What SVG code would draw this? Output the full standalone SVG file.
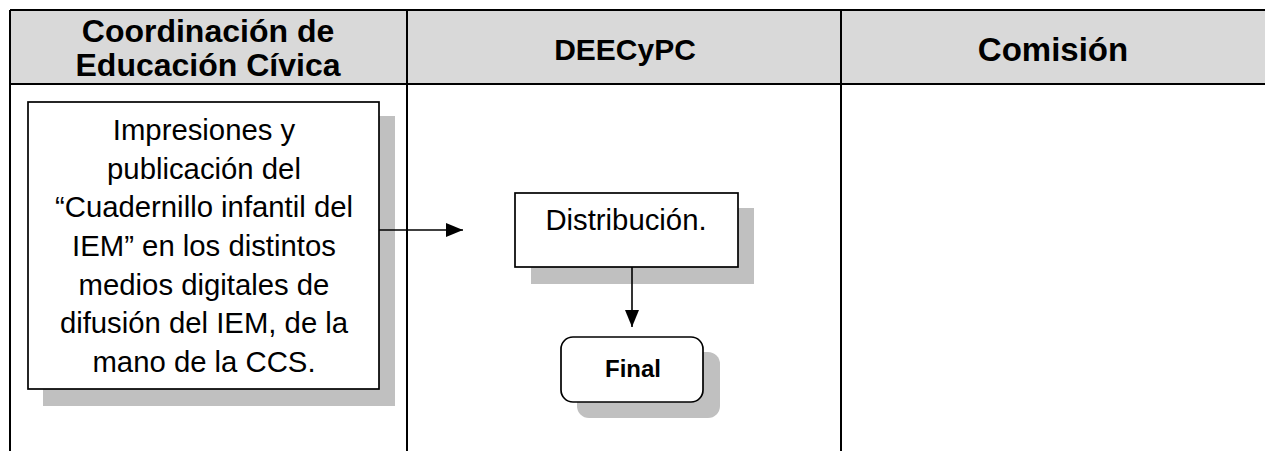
<svg xmlns="http://www.w3.org/2000/svg" width="1265" height="451" viewBox="0 0 1265 451">
<style>
.hdr{font-family:"Liberation Sans",Arial,sans-serif;font-weight:bold;font-size:31px;fill:#000;text-anchor:middle}
.txt{font-family:"Liberation Sans",Arial,sans-serif;font-size:29.3px;fill:#000;text-anchor:middle}
.bold{font-weight:bold;font-size:24px}
.grid{stroke:#000;stroke-width:2;fill:none}
.box{fill:#fff;stroke:#000;stroke-width:1.7}
.shadow{fill:#c0c0c0}
.conn{stroke:#000;stroke-width:1.6;fill:none}
</style>
<defs>
<marker id="arr" viewBox="0 0 17 14" refX="17" refY="7" markerWidth="17" markerHeight="14" markerUnits="userSpaceOnUse" orient="auto">
<path d="M0,0 L17,7 L0,14 Z" fill="#000"/>
</marker>
</defs>
<rect width="1265" height="451" fill="#fff"/>
<g id="table">
<rect x="10" y="10" width="1265" height="74" fill="#d9d9d9"/>
<line class="grid" x1="10" y1="10" x2="1265" y2="10"/>
<line class="grid" x1="10" y1="84" x2="1265" y2="84"/>
<line class="grid" x1="10" y1="10" x2="10" y2="451"/>
<line class="grid" x1="407" y1="10" x2="407" y2="451"/>
<line class="grid" x1="841" y1="10" x2="841" y2="451"/>
<text class="hdr" x="208" y="42" style="font-size:32px">Coordinación de</text>
<text class="hdr" x="208" y="76" style="font-size:32px">Educación Cívica</text>
<text class="hdr" x="625" y="60" style="font-size:30px">DEECyPC</text>
<text class="hdr" x="1053" y="61" style="font-size:33px">Comisión</text>
</g>
<g id="node-impresiones">
<rect class="shadow" x="43" y="116" width="352" height="290"/>
<rect class="box" x="28" y="102" width="351" height="287"/>
<text class="txt" x="204" y="140">Impresiones y</text>
<text class="txt" x="204" y="178.7">publicación del</text>
<text class="txt" x="204" y="217.3">“Cuadernillo infantil del</text>
<text class="txt" x="204" y="256">IEM” en los distintos</text>
<text class="txt" x="204" y="294.7">medios digitales de</text>
<text class="txt" x="204" y="333.3">difusión del IEM, de la</text>
<text class="txt" x="204" y="372">mano de la CCS.</text>
</g>
<g id="node-distribucion">
<rect class="shadow" x="531" y="208" width="223" height="76"/>
<rect class="box" x="515" y="193" width="223" height="74"/>
<text class="txt" x="626" y="230">Distribución.</text>
</g>
<g id="node-final">
<rect class="shadow" x="577" y="352" width="143" height="66" rx="12" ry="12"/>
<rect class="box" x="561" y="337" width="142" height="65" rx="12" ry="12"/>
<text class="txt bold" x="633" y="377">Final</text>
</g>
<g id="connectors">
<line class="conn" x1="379" y1="230" x2="463" y2="230" marker-end="url(#arr)"/>
<line class="conn" x1="632" y1="267" x2="632" y2="327" marker-end="url(#arr)"/>
</g>
</svg>
